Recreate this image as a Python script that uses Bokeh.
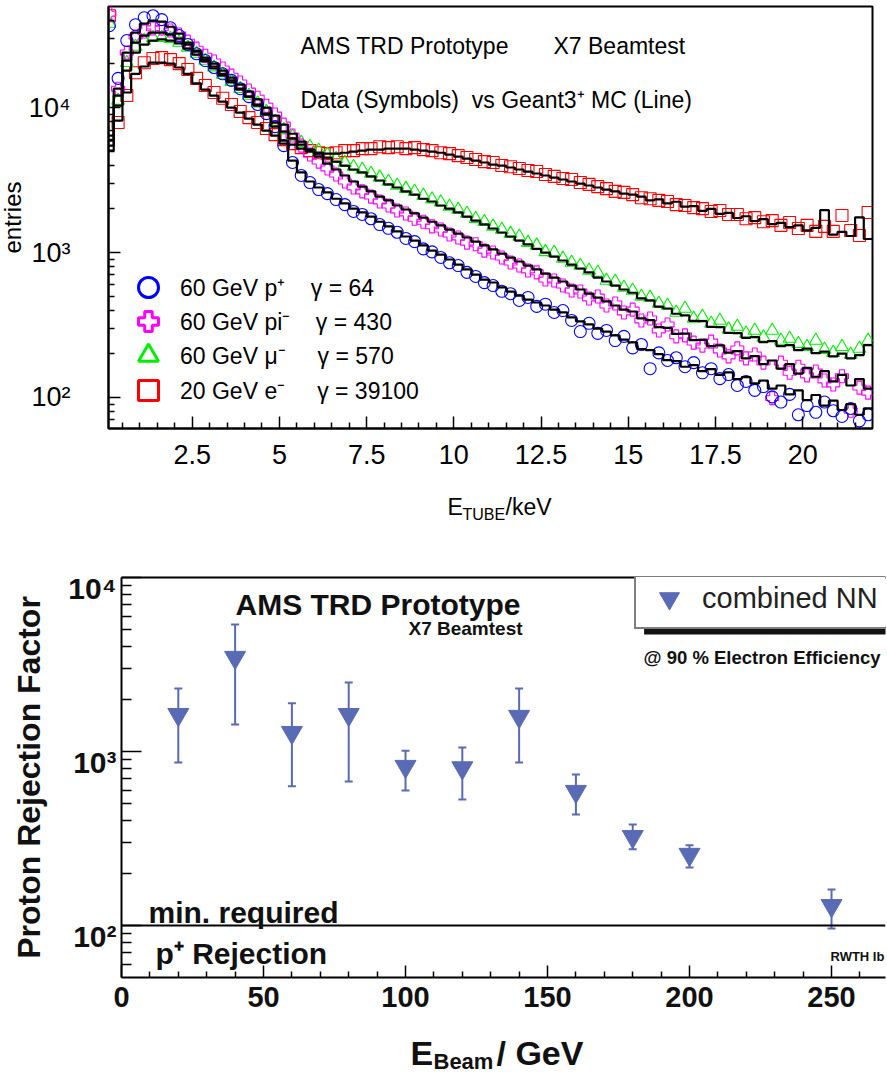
from bokeh.plotting import figure
from bokeh.layouts import column
from bokeh.models import (Range1d, FixedTicker, Label, Legend, LegendItem, Span, Whisker,
                          TeeHead, ColumnDataSource, BoxAnnotation, LinearAxis)
from bokeh.embed import file_html
from bokeh.resources import INLINE

FONT = "Liberation Sans"
NAN = float("nan")

# ---------------- top panel: tube energy spectra ----------------
E_START, BIN_W, N_BINS = 0.0, 0.25, 88

proton_data = [
    36700, 15900, 29000, 37300, 41700, 43000, 40400, 35500, 31400, 27200,
    23500, 21100, 18900, 17100, 15400, 13500, 11900, 10500, 9090, 7390,
    5460, 4180, 3400, 3040, 2720, 2550, 2320, 2140, 1920, 1830,
    1710, 1560, 1470, 1380, 1250, 1190, 1060, 1010, 925, 850,
    813, 730, 684, 620, 592, 540, 520, 467, 490, 425,
    440, 386, 398, 340, 285, 325, 277, 290, 247, 264,
    220, 232, 158, 203, 180, 188, 163, 174, 148, 158,
    135, 144, 121, 129, 112, 119, 101, 93, 105, 76,
    88, 79, 93, 81, 74, 84, 69, 76]
proton_mc = [
    6410, 13500, 23900, 32900, 37900, 39800, 39200, 36100, 32400, 28100,
    24300, 21400, 19200, 17100, 15400, 13500, 11900, 10300, 8950, 7390,
    5640, 4310, 3570, 3090, 2810, 2600, 2350, 2180, 2010, 1890,
    1770, 1630, 1515, 1400, 1290, 1210, 1120, 1030, 968, 895,
    826, 764, 705, 651, 621, 574, 538, 505, 474, 452,
    431, 404, 386, 357, 335, 319, 299, 285, 268, 251,
    240, 216, 212, 199, 181, 178, 163, 167, 152, 157,
    143, 149, 134, 138, 125, 131, 115, 121, 105, 112,
    96, 104, 88, 95, 82, 90, 76, 84]
pion_data = [
    44400, 13500, 24000, 30900, 33500, 35200, 35200, 34000, 31900, 28500,
    25500, 22800, 20800, 18600, 16600, 14900, 13100, 11700, 10300, 8950,
    7630, 6410, 5460, 4740, 4240, 3800, 3450, 3090, 2810, 2640,
    2430, 2250, 2110, 1950, 1860, 1710, 1630, 1515, 1440, 1330,
    1270, 1170, 1140, 1030, 1000, 923, 853, 813, 752, 730,
    651, 641, 592, 547, 538, 482, 497, 431, 445, 386,
    404, 340, 351, 290, 319, 264, 268, 239, 228, 243,
    211, 192, 218, 186, 198, 174, 99, 174, 148, 163,
    142, 151, 131, 123, 140, 81, 117, 108]
pion_mc = [
    5920, 12100, 21100, 28100, 31400, 32900, 32900, 31900, 29900, 27200,
    24700, 22100, 20100, 18000, 16100, 14400, 12900, 11400, 9980, 8810,
    7630, 6600, 5830, 5130, 4590, 4110, 3740, 3400, 3090, 2850,
    2640, 2430, 2290, 2110, 1980, 1860, 1740, 1630, 1540, 1440,
    1350, 1270, 1190, 1120, 1050, 984, 923, 867, 813, 764,
    716, 672, 631, 592, 556, 521, 489, 460, 431, 404,
    392, 351, 342, 306, 302, 275, 276, 249, 250, 226,
    229, 204, 209, 186, 193, 170, 180, 158, 170, 146,
    160, 139, 152, 129, 143, 121, 134, 115]
muon_data = [
    38000, 11200, 20400, 26400, 29000, 30300, 30300, 29900, 28100, 26000,
    23600, 21100, 19000, 16900, 15100, 13500, 12100, 10700, 9390, 8000,
    7040, 6310, 5730, 5370, 5050, 4740, 4440, 4170, 3910, 3740,
    3510, 3300, 3090, 2900, 2760, 2640, 2470, 2330, 2220, 2080,
    1980, 1860, 1710, 1630, 1515, 1440, 1350, 1290, 1170, 1120,
    1010, 1000, 910, 853, 813, 752, 729, 641, 631, 574,
    547, 497, 489, 445, 431, 386, 411, 351, 362, 324,
    340, 295, 309, 277, 290, 260, 290, 247, 255, 235,
    224, 247, 214, 204, 224, 198, 218, 247]
muon_mc = [
    5460, 10300, 18000, 23900, 27200, 29000, 29500, 29000, 27700, 25500,
    23200, 20800, 18600, 16600, 14900, 13300, 11900, 10500, 9090, 7880,
    6820, 6110, 5550, 5130, 4890, 4520, 4240, 3980, 3740, 3570,
    3350, 3140, 2950, 2810, 2640, 2510, 2350, 2250, 2110, 2010,
    1890, 1770, 1660, 1565, 1465, 1375, 1290, 1210, 1140, 1060,
    999, 938, 881, 826, 776, 729, 672, 631, 592, 556,
    528, 482, 467, 424, 411, 378, 369, 338, 336, 307,
    306, 279, 278, 258, 261, 241, 245, 226, 230, 212,
    217, 202, 207, 192, 201, 186, 196, 230]
electron_data = [
    43000, 7880, 12100, 17400, 20400, 21800, 22100, 21400, 20100, 18300,
    15900, 14200, 12700, 11600, 10500, 9390, 8530, 7880, 7170, 6510,
    6010, 5640, 5290, 5050, 4880, 4810, 4880, 5050, 5050, 5210,
    5210, 5370, 5290, 5370, 5210, 5290, 5130, 5050, 4880, 4810,
    4660, 4520, 4380, 4240, 4180, 3980, 3910, 3800, 3680, 3620,
    3450, 3350, 3240, 3190, 3040, 2950, 2850, 2760, 2640, 2600,
    2510, 2390, 2350, 2290, 2250, 2140, 2110, 2040, 2010, 1920,
    1950, 1830, 1830, 1710, 1740, 1630, 1660, 1540, 1610, 1465,
    1540, 1400, 1515, 1400, 1800, 1420, 1310, 1890]
electron_mc = [
    5050, 8130, 12700, 17100, 19200, 20400, 20400, 20100, 18900, 17100,
    14700, 13300, 12100, 11000, 9980, 9240, 8390, 7630, 6930, 6410,
    5920, 5550, 5210, 4970, 4810, 4810, 4810, 4880, 4970, 5050,
    5130, 5130, 5210, 5210, 5210, 5130, 5050, 4970, 4880, 4740,
    4590, 4440, 4310, 4180, 4040, 3980, 3860, 3740, 3620, 3510,
    3400, 3290, 3190, 3090, 2990, 2900, 2810, 2720, 2640, 2550,
    2510, 2430, 2290, 2330, 2180, 2240, 2070, 2090, 1940, 2000,
    1850, 1880, 1730, 1780, 1650, 1700, 1570, 1600, 1500, 1540,
    1420, 1480, 1960, 1330, 1390, 1300, 1750, 1240]

legend_labels = [
    "60 GeV p\u207a\u00a0\u00a0\u00a0\u00a0\u03b3 = 64",
    "60 GeV pi\u207b\u00a0\u00a0\u00a0\u00a0\u03b3 = 430",
    "60 GeV \u03bc\u207b\u00a0\u00a0\u00a0\u00a0\u00a0\u03b3 = 570",
    "20 GeV e\u207b\u00a0\u00a0\u00a0\u00a0\u00a0\u03b3 = 39100",
]
top_x_ticks = [2.5, 5, 7.5, 10, 12.5, 15, 17.5, 20]
top_x_labels = ["2.5", "5", "7.5", "10", "12.5", "15", "17.5", "20"]
top_y_ticks = [100, 1000, 10000]
top_y_labels = ["10\u00b2", "10\u00b3", "10\u2074"]

# ---------------- bottom panel: rejection factor ----------------
beam_energy = [20, 40, 60, 80, 100, 120, 140, 160, 180, 200, 250]
rejection = [1630, 3470, 1285, 1630, 820, 805, 1590, 589, 324, 256, 130]
rejection_up = [2300, 5370, 1890, 2490, 1010, 1055, 2300, 738, 380, 289, 161]
rejection_lo = [865, 1430, 630, 673, 597, 530, 865, 434, 274, 215, 96]
min_required = 100
bot_x_ticks = [0, 50, 100, 150, 200, 250]
bot_x_labels = ["0", "50", "100", "150", "200", "250"]
bot_y_ticks = [100, 1000, 10000]
bot_y_labels = ["\n10\u00b2", "\n10\u00b3", "\n10\u2074"]


def tlabel(fig, x, y, text, size, bold=False, color="black", units="screen"):
    fig.add_layout(Label(x=x, y=y, x_units=units, y_units=units, text=text,
                         text_font=FONT, text_font_size=size, text_color=color,
                         text_font_style="bold" if bold else "normal",
                         text_baseline="alphabetic", text_align="left"))


LEFT_B, RIGHT_B = 121, 2   # borders shared by all stacked panels (frames get aligned)


def strip(height):
    s = figure(width=887, height=height, x_range=Range1d(LEFT_B, 887 - RIGHT_B),
               y_range=Range1d(0, height), output_backend="svg", toolbar_location=None,
               min_border_left=LEFT_B, min_border_right=RIGHT_B, min_border_top=0,
               min_border_bottom=0, x_axis_location=None, y_axis_location=None)
    s.outline_line_color = None
    s.grid.visible = False
    s.background_fill_color = "white"
    s.border_fill_color = "white"
    return s


# ======================= TOP FIGURE =======================
centers = [E_START + BIN_W * (i + 0.5) for i in range(N_BINS)]
edges = [E_START + BIN_W * i for i in range(N_BINS + 1)]

SHIFT = 13  # top frame starts 13 px left of the bottom frame
top = figure(width=887 - RIGHT_B - 9 + SHIFT, height=486,
             x_range=Range1d(0.1, 22.0), y_range=Range1d(61.1, 49800),
             y_axis_type="log", output_backend="svg", toolbar_location=None,
             min_border_left=LEFT_B, min_border_right=RIGHT_B, min_border_top=6,
             min_border_bottom=58)
top.margin = (0, 0, 0, -SHIFT)
top.grid.visible = False
top.outline_line_color = "black"
top.outline_line_width = 2
top.background_fill_color = "white"
top.border_fill_color = "white"

series = [
    (electron_data, electron_mc, "square", "#ff0000", 12),
    (muon_data, muon_mc, "triangle", "#00ee00", 13),
    (pion_data, pion_mc, "plus", "#ff00ff", 13),
    (proton_data, proton_mc, "circle", "#0000ff", 12),
]
for data, mc, mk, col, sz in series:
    top.scatter(x=centers, y=data, marker=mk, size=sz, line_color=col, fill_color=None,
                line_width=1.1)
for data, mc, mk, col, sz in series:
    top.step(x=edges, y=mc + [mc[-1]], mode="after", line_color="black", line_width=2.2)

xa = top.below[0]
ya = top.left[0]
xa.ticker = FixedTicker(ticks=top_x_ticks,
                        minor_ticks=[0.5 * k for k in range(1, 44) if (0.5 * k) % 2.5 != 0])
xa.major_label_overrides = dict(zip(top_x_ticks, top_x_labels))
ya.ticker = FixedTicker(ticks=top_y_ticks,
                        minor_ticks=[m * 10 ** k for k in (1, 2, 3, 4) for m in range(2, 10)])
ya.major_label_overrides = dict(zip(top_y_ticks, top_y_labels))
for ax in (xa, ya):
    ax.axis_line_width = 2
    ax.major_tick_in = 12
    ax.major_tick_out = 0
    ax.minor_tick_in = 6
    ax.minor_tick_out = 0
    ax.major_tick_line_width = 1.5
    ax.minor_tick_line_width = 1.5
    ax.major_label_text_font = FONT
    ax.major_label_text_color = "black"
xa.major_label_text_font_size = "27px"
ya.major_label_text_font_size = "27px"
xa.major_label_standoff = 16
ya.major_label_standoff = 38
ya.axis_label = "entries"
ya.axis_label_text_font = FONT
ya.axis_label_text_font_size = "24px"
ya.axis_label_text_font_style = "normal"
ya.axis_label_text_color = "black"
ya.axis_label_standoff = 0

# legend: one box per row so that the rows sit as close as in the reference
row_offsets = [116, 82, 48, 13]
for (data, mc, mk, col, sz), lab, yoff in zip(series[::-1], legend_labels, row_offsets):
    proxy = top.scatter(x=[NAN], y=[NAN], marker=mk, size=20, line_color=col,
                        fill_color=None, line_width=3)
    top.add_layout(Legend(items=[LegendItem(label=lab, renderers=[proxy])], location=(15, yoff),
                          glyph_width=50, glyph_height=50, padding=0, margin=0,
                          border_line_color=None, background_fill_alpha=0,
                          label_text_font=FONT, label_text_font_size="23px",
                          label_text_color="black", label_standoff=7))

tlabel(top, 192, 383, "AMS TRD Prototype", "23px")
tlabel(top, 445, 383, "X7 Beamtest", "23px")
tlabel(top, 192, 329, "Data (Symbols)\u00a0\u00a0vs Geant3\u207a MC (Line)", "23px")

# strip holding the x-axis title E_TUBE/keV  (page y 486..548)
strip1 = strip(62)
tlabel(strip1, 447, 42, "E", "23px", units="data")
tlabel(strip1, 462, 34, "TUBE", "16px", units="data")
tlabel(strip1, 505, 42, "/keV", "23px", units="data")

# ======================= BOTTOM FIGURE =======================
COL = "#5a6bb5"
bot = figure(width=887, height=472, x_range=Range1d(0, 269.0), y_range=Range1d(50.2, 10000),
             y_axis_type="log", output_backend="svg", toolbar_location=None,
             min_border_left=LEFT_B, min_border_right=RIGHT_B, min_border_top=29,
             min_border_bottom=43)
bot.grid.visible = False
bot.outline_line_color = None
bot.background_fill_color = "white"
bot.border_fill_color = "white"

bxa = bot.below[0]
bya = bot.left[0]

bot.add_layout(LinearAxis(axis_line_width=2, major_tick_in=0, major_tick_out=0,
                          minor_tick_in=0, minor_tick_out=0, major_label_text_alpha=0,
                          major_label_text_font_size="1px", major_label_standoff=0), "above")

bot.add_layout(Span(location=min_required, dimension="width", line_color="black",
                    line_width=2))

src = ColumnDataSource(dict(x=beam_energy, y=rejection, up=rejection_up, lo=rejection_lo))
wh = Whisker(source=src, base="x", upper="up", lower="lo", dimension="height",
             line_color=COL, line_width=2,
             upper_head=TeeHead(size=8, line_color=COL, line_width=2),
             lower_head=TeeHead(size=8, line_color=COL, line_width=2), level="underlay")
bot.add_layout(wh)
bot.scatter(x="x", y="y", source=src, marker="inverted_triangle", size=21,
            fill_color=COL, line_color=COL)

bxa.ticker = FixedTicker(ticks=bot_x_ticks,
                         minor_ticks=[10 * k for k in range(1, 27) if k % 5 != 0])
bxa.major_label_overrides = dict(zip(bot_x_ticks, bot_x_labels))
bxa.major_tick_in = 12
bxa.minor_tick_in = 6
bya.ticker = FixedTicker(ticks=bot_y_ticks,
                         minor_ticks=[m * 10 ** k for k in (1, 2, 3) for m in range(2, 10)])
bya.major_label_overrides = dict(zip(bot_y_ticks, bot_y_labels))
bya.major_tick_in = 20
bya.minor_tick_in = 10
for ax in (bxa, bya):
    ax.axis_line_width = 2
    ax.major_tick_out = 0
    ax.minor_tick_out = 0
    ax.major_tick_line_width = 1.5
    ax.minor_tick_line_width = 1.5
    ax.major_label_text_font = FONT
    ax.major_label_text_font_style = "bold"
    ax.major_label_text_color = "#111111"
bxa.major_label_text_font_size = "29px"
bya.major_label_text_font_size = "30px"
bya.major_label_text_line_height = 0.67
bxa.major_label_standoff = 9
bya.major_label_standoff = 5
bya.axis_label = "Proton Rejection Factor"
bya.axis_label_text_font = FONT
bya.axis_label_text_font_size = "32px"
bya.axis_label_text_font_style = "bold"
bya.axis_label_text_color = "#111111"
bya.axis_label_standoff = 18

# legend shadow and legend
bot.add_layout(BoxAnnotation(left=184, right=400, top=5220, bottom=4700,
                             fill_color="#111111", fill_alpha=1, line_color=None))
proxy = bot.scatter(x=[NAN], y=[NAN], marker="inverted_triangle", size=20, fill_color=COL,
                    line_color=COL)
leg2 = Legend(items=[LegendItem(label="combined NN", renderers=[proxy])], location=(513, 348),
              glyph_width=58, glyph_height=50, padding=4, margin=0,
              border_line_color="black", border_line_width=2,
              background_fill_color="white", background_fill_alpha=1,
              label_text_font=FONT, label_text_font_size="29px", label_standoff=4,
              label_width=240, label_text_color="#222222")
bot.add_layout(leg2)

tlabel(bot, 114, 373, "AMS TRD Prototype", "30px", bold=True, color="#111111")
tlabel(bot, 287, 349, "X7 Beamtest", "19px", bold=True, color="#111111")
tlabel(bot, 522, 320, "@ 90 % Electron Efficiency", "18.5px", bold=True, color="#111111")
tlabel(bot, 27, 65, "min. required", "30px", bold=True, color="#111111")
tlabel(bot, 34, 24, "p\u207a Rejection", "30px", bold=True, color="#111111")
tlabel(bot, 709, 21, "RWTH Ib", "13px", bold=True, color="#111111")

# strip holding the x-axis title E_Beam / GeV  (page y 1020..1076)
strip2 = strip(56)
tlabel(strip2, 410, 24, "E", "34px", bold=True, color="#111111", units="data")
tlabel(strip2, 433, 15, "Beam", "22px", bold=True, color="#111111", units="data")
tlabel(strip2, 496, 24, "/ GeV", "34px", bold=True, color="#111111", units="data")

layout = column(top, strip1, bot, strip2)
open("out.html", "w").write(file_html(layout, INLINE))
